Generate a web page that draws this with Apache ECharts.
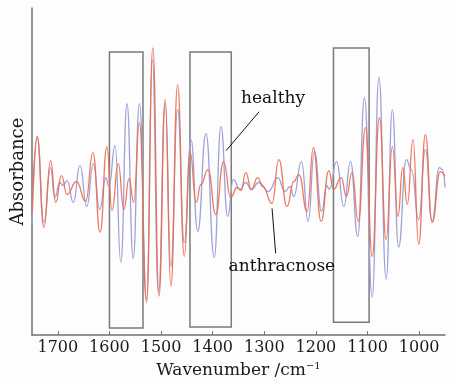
<!DOCTYPE html>
<html>
<head>
<meta charset="utf-8">
<script src="https://cdn.jsdelivr.net/npm/echarts@6/dist/echarts.min.js"></script>
<style>
    html, body { margin: 0; padding: 0; background: #fdfdfd; }
    #chart { width: 456px; height: 384px; }
</style>
</head>
<body>
<div id="chart"></div>
<script>
    // wavenumber (cm-1) / absorbance pairs
    var healthyWn = [1750, 1740, 1727, 1714, 1706, 1696, 1690, 1682, 1670, 1657, 1644, 1631, 1619, 1607, 1601, 1589,
        1578, 1566, 1554, 1542, 1528, 1517, 1505, 1492, 1481, 1468, 1455, 1442, 1429, 1413, 1397, 1384, 1371,
        1360, 1347, 1336, 1325, 1311, 1292, 1274, 1260, 1250, 1243, 1228, 1215, 1203, 1189, 1179, 1174, 1160,
        1146, 1133, 1119, 1106, 1091, 1078, 1064, 1052, 1040, 1025, 1015, 1001, 988, 975, 961, 955, 950];
    var healthyAbs = [-0.40, 0.48, -0.38, 0.17, -0.13, 0.02, -0.01, 0.04, -0.18, 0.19, -0.22, 0.21, -0.25, 0.07, -0.02, 0.39,
        -0.78, 0.81, -0.74, 0.81, -1.15, 1.25, -1.08, 0.81, -0.82, 0.75, -0.58, 0.45, -0.47, 0.51, -0.73, 0.58, -0.32,
        0.05, -0.05, 0.02, -0.05, 0.02, -0.07, 0.07, -0.07, -0.02, -0.12, 0.23, -0.37, 0.33, -0.27, -0.01, -0.05, 0.23,
        -0.22, 0.23, -0.52, 0.87, -1.13, 1.08, -0.95, 0.75, -0.63, 0.25, 0.15, -0.35, 0.35, -0.37, 0.17, 0.15, -0.03];

    var anthracnoseWn = [1750, 1740, 1727, 1714, 1704, 1693, 1682, 1664, 1646, 1632, 1618, 1605, 1595, 1583, 1572, 1562,
        1553, 1542, 1528, 1516, 1504, 1492, 1481, 1468, 1455, 1444, 1432, 1423, 1409, 1394, 1379, 1365, 1353, 1345,
        1336, 1325, 1313, 1303, 1285, 1272, 1256, 1243, 1233, 1217, 1205, 1190, 1175, 1166, 1151, 1141, 1130, 1118,
        1104, 1091, 1077, 1064, 1052, 1041, 1032, 1023, 1012, 1001, 988, 975, 959, 950];
    var anthracnoseAbs = [-0.30, 0.48, -0.43, 0.24, -0.18, 0.09, -0.10, 0.03, -0.17, 0.32, -0.48, 0.38, -0.26, 0.21, -0.25, 0.06,
        -0.18, 0.62, -1.18, 1.37, -1.12, 0.85, -1.02, 1.00, -0.72, 0.33, -0.18, 0.00, 0.15, -0.30, 0.23, -0.13, -0.03, -0.06,
        0.12, -0.05, 0.07, -0.02, -0.19, 0.25, -0.22, 0.03, 0.10, -0.27, 0.37, -0.37, 0.14, -0.05, 0.07, -0.12, 0.12, -0.37,
        0.57, -0.72, 0.67, -0.55, 0.38, -0.32, 0.17, -0.20, 0.45, -0.60, 0.50, -0.38, 0.13, 0.08];

    var tickWn = [1000, 1100, 1200, 1300, 1400, 1500, 1600, 1700];

    // highlighted regions: [wavenumber from, wavenumber to, absorbance top, absorbance bottom]
    var boxes = [
        [1600, 1535, 1.33, -1.44],
        [1444, 1364, 1.33, -1.43],
        [1166, 1097, 1.37, -1.38]
    ];

    var FONT = '"DejaVu Serif", "Liberation Serif", serif';

    function pairs(xs, ys) {
        return xs.map(function (x, i) { return [x, ys[i]]; });
    }

    var myChart = echarts.init(document.getElementById('chart'));

    var option = {
        backgroundColor: '#fdfdfd',
        animation: false,
        grid: { left: 32, right: 11, top: 8, bottom: 48 },
        xAxis: {
            type: 'value',
            inverse: true,
            min: 950,
            max: 1750,
            name: 'Wavenumber /cm{sup|−1}',
            nameLocation: 'middle',
            nameGap: 24,
            nameTextStyle: {
                fontFamily: FONT, fontSize: 17, color: '#1a1a1a',
                rich: {
                    sup: { fontFamily: FONT, fontSize: 10, color: '#1a1a1a', padding: [0, 0, 9, 0] }
                }
            },
            axisLine: { onZero: false, lineStyle: { color: '#707070', width: 1.5 } },
            axisTick: { show: true, inside: true, length: 4, customValues: tickWn, lineStyle: { color: '#707070' } },
            axisLabel: {
                customValues: tickWn, fontFamily: FONT, fontSize: 16, color: '#1a1a1a', margin: 5,
                formatter: function (v) { return String(v); }
            },
            splitLine: { show: false }
        },
        yAxis: {
            type: 'value',
            min: -1.51,
            max: 1.77,
            name: 'Absorbance',
            nameLocation: 'middle',
            nameRotate: 90,
            nameGap: 5,
            nameTextStyle: { fontFamily: FONT, fontSize: 18, color: '#1a1a1a' },
            axisLine: { show: true, onZero: false, lineStyle: { color: '#707070', width: 1.5 } },
            axisTick: { show: false },
            axisLabel: { show: false },
            splitLine: { show: false }
        },
        series: [
            {
                name: 'healthy',
                type: 'line',
                smooth: 0.5,
                smoothMonotone: 'x',
                symbol: 'none',
                data: pairs(healthyWn, healthyAbs),
                lineStyle: { color: '#9ea2da', width: 1.3 },
                z: 2,
                markArea: {
                    silent: true,
                    itemStyle: { color: 'rgba(0,0,0,0)', borderColor: '#7a7a7a', borderWidth: 1.5 },
                    data: boxes.map(function (b) {
                        return [{ coord: [b[0], b[2]] }, { coord: [b[1], b[3]] }];
                    })
                },
                markLine: {
                    silent: true,
                    symbol: ['none', 'arrow'],
                    symbolSize: [0, 7],
                    label: { show: false },
                    lineStyle: { color: '#111', width: 1, type: 'solid' },
                    data: [
                        [{ coord: [1310, 0.73] }, { coord: [1374, 0.34] }],
                        [{ coord: [1278, -0.69] }, { coord: [1285, -0.24] }]
                    ]
                },
                markPoint: {
                    silent: true,
                    symbol: 'circle',
                    symbolSize: 1,
                    itemStyle: { color: 'rgba(0,0,0,0)' },
                    label: { show: true, position: 'inside', fontFamily: FONT, fontSize: 17, color: '#111' },
                    data: [
                        { coord: [1283, 0.86], label: { formatter: 'healthy' } },
                        { coord: [1266, -0.82], label: { formatter: 'anthracnose' } }
                    ]
                }
            },
            {
                name: 'anthracnose',
                type: 'line',
                smooth: 0.5,
                smoothMonotone: 'x',
                symbol: 'none',
                data: pairs(anthracnoseWn, anthracnoseAbs),
                lineStyle: { color: '#ec6a4c', width: 1.3, opacity: 0.9 },
                z: 3
            }
        ]
    };
    myChart.setOption(option);
</script>
</body>
</html>
